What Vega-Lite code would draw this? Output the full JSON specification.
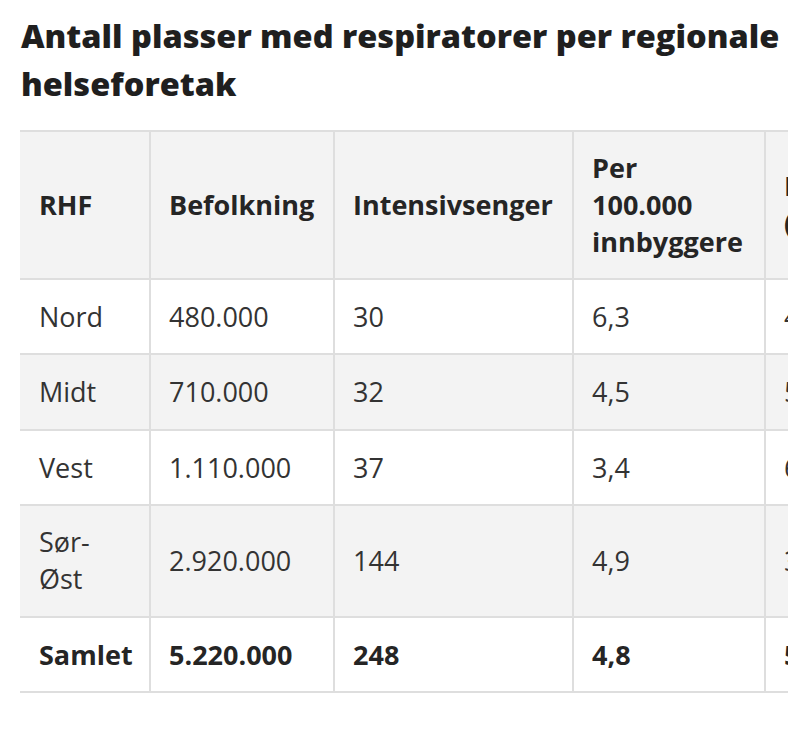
{
  "$schema": "https://vega.github.io/schema/vega-lite/v6.json",
  "width": 768,
  "height": 630,
  "autosize": "none",
  "padding": {"left": 20, "top": 120, "right": 0, "bottom": 0},
  "background": "#ffffff",
  "config": {"view": {"stroke": null}},
  "title": {
    "text": ["Antall plasser med respiratorer per regionale", "helseforetak"],
    "anchor": "start",
    "frame": "group",
    "orient": "top",
    "font": "Open Sans",
    "fontSize": 32.5,
    "fontWeight": 800,
    "color": "#1f1f1f",
    "lineHeight": 48,
    "baseline": "alphabetic",
    "offset": -8,
    "dx": 1
  },
  "datasets": {
    "shaded": [
      {"top": -0.5, "bottom": 0.5},
      {"top": 1.5, "bottom": 2.5},
      {"top": 3.5, "bottom": 4.5}
    ],
    "edges": [
      {"edge": -0.5}, {"edge": 0.5}, {"edge": 1.5}, {"edge": 2.5},
      {"edge": 3.5}, {"edge": 4.5}, {"edge": 5.5}
    ],
    "dividers": [{"line": 1}, {"line": 2}, {"line": 3}, {"line": 4}],
    "cells": [
      {"row": 0, "col": 0, "text": "RHF", "bold": true},
      {"row": 0, "col": 1, "text": "Befolkning", "bold": true},
      {"row": 0, "col": 2, "text": "Intensivsenger", "bold": true},
      {"row": 0, "col": 3, "text": "Per\n100.000\ninnbyggere", "bold": true},
      {"row": 0, "col": 4, "text": "Respiratorer\n(antall)", "bold": true},
      {"row": 1, "col": 0, "text": "Nord", "bold": false},
      {"row": 1, "col": 1, "text": "480.000", "bold": false},
      {"row": 1, "col": 2, "text": "30", "bold": false},
      {"row": 1, "col": 3, "text": "6,3", "bold": false},
      {"row": 1, "col": 4, "text": "4", "bold": false},
      {"row": 2, "col": 0, "text": "Midt", "bold": false},
      {"row": 2, "col": 1, "text": "710.000", "bold": false},
      {"row": 2, "col": 2, "text": "32", "bold": false},
      {"row": 2, "col": 3, "text": "4,5", "bold": false},
      {"row": 2, "col": 4, "text": "5", "bold": false},
      {"row": 3, "col": 0, "text": "Vest", "bold": false},
      {"row": 3, "col": 1, "text": "1.110.000", "bold": false},
      {"row": 3, "col": 2, "text": "37", "bold": false},
      {"row": 3, "col": 3, "text": "3,4", "bold": false},
      {"row": 3, "col": 4, "text": "6", "bold": false},
      {"row": 4, "col": 0, "text": "Sør-\nØst", "bold": false},
      {"row": 4, "col": 1, "text": "2.920.000", "bold": false},
      {"row": 4, "col": 2, "text": "144", "bold": false},
      {"row": 4, "col": 3, "text": "4,9", "bold": false},
      {"row": 4, "col": 4, "text": "3", "bold": false},
      {"row": 5, "col": 0, "text": "Samlet", "bold": true},
      {"row": 5, "col": 1, "text": "5.220.000", "bold": true},
      {"row": 5, "col": 2, "text": "248", "bold": true},
      {"row": 5, "col": 3, "text": "4,8", "bold": true},
      {"row": 5, "col": 4, "text": "5", "bold": true}
    ]
  },
  "layer": [
    {
      "data": {"name": "shaded"},
      "mark": {"type": "rect", "color": "#f3f3f3"},
      "encoding": {
        "x": {"datum": 0, "type": "quantitative", "axis": null,
              "scale": {"domain": [0, 1, 2, 3, 4, 5], "range": [0, 130, 314, 553, 745, 945], "zero": false, "nice": false}},
        "x2": {"datum": 5},
        "y": {"field": "top", "type": "quantitative", "axis": null,
              "scale": {"domain": [-0.5, 0, 0.5, 1, 1.5, 2, 2.5, 3, 3.5, 4, 4.5, 5, 5.5], "range": [11, 85, 159, 196.5, 234, 272, 310, 347.5, 385, 441, 497, 534.5, 572], "zero": false, "nice": false}},
        "y2": {"field": "bottom"}
      }
    },
    {
      "data": {"name": "edges"},
      "mark": {"type": "rule", "color": "#dedede", "strokeWidth": 2},
      "encoding": {
        "x": {"datum": 0, "type": "quantitative", "axis": null,
              "scale": {"domain": [0, 1, 2, 3, 4, 5], "range": [0, 130, 314, 553, 745, 945], "zero": false, "nice": false}},
        "x2": {"datum": 5},
        "y": {"field": "edge", "type": "quantitative", "axis": null,
              "scale": {"domain": [-0.5, 0, 0.5, 1, 1.5, 2, 2.5, 3, 3.5, 4, 4.5, 5, 5.5], "range": [11, 85, 159, 196.5, 234, 272, 310, 347.5, 385, 441, 497, 534.5, 572], "zero": false, "nice": false}}
      }
    },
    {
      "data": {"name": "dividers"},
      "mark": {"type": "rule", "color": "#dedede", "strokeWidth": 2},
      "encoding": {
        "x": {"field": "line", "type": "quantitative", "axis": null,
              "scale": {"domain": [0, 1, 2, 3, 4, 5], "range": [0, 130, 314, 553, 745, 945], "zero": false, "nice": false}},
        "y": {"datum": -0.5, "type": "quantitative", "axis": null,
              "scale": {"domain": [-0.5, 0, 0.5, 1, 1.5, 2, 2.5, 3, 3.5, 4, 4.5, 5, 5.5], "range": [11, 85, 159, 196.5, 234, 272, 310, 347.5, 385, 441, 497, 534.5, 572], "zero": false, "nice": false}},
        "y2": {"datum": 5.5}
      }
    },
    {
      "data": {"name": "cells"},
      "transform": [{"filter": "!datum.bold && length(split(datum.text, '\\n')) == 1"}],
      "mark": {"type": "text", "align": "left", "baseline": "middle", "dx": 19, "dy": 2, "font": "Open Sans", "fontSize": 27, "fontWeight": "normal", "color": "#333333", "lineBreak": "\n", "lineHeight": 37},
      "encoding": {
        "x": {"field": "col", "type": "quantitative", "axis": null,
              "scale": {"domain": [0, 1, 2, 3, 4, 5], "range": [0, 130, 314, 553, 745, 945], "zero": false, "nice": false}},
        "y": {"field": "row", "type": "quantitative", "axis": null,
              "scale": {"domain": [-0.5, 0, 0.5, 1, 1.5, 2, 2.5, 3, 3.5, 4, 4.5, 5, 5.5], "range": [11, 85, 159, 196.5, 234, 272, 310, 347.5, 385, 441, 497, 534.5, 572], "zero": false, "nice": false}},
        "text": {"field": "text", "type": "nominal"}
      }
    },
    {
      "data": {"name": "cells"},
      "transform": [{"filter": "!datum.bold && length(split(datum.text, '\\n')) == 2"}],
      "mark": {"type": "text", "align": "left", "baseline": "middle", "dx": 19, "dy": -17, "font": "Open Sans", "fontSize": 27, "fontWeight": "normal", "color": "#333333", "lineBreak": "\n", "lineHeight": 37},
      "encoding": {
        "x": {"field": "col", "type": "quantitative", "axis": null,
              "scale": {"domain": [0, 1, 2, 3, 4, 5], "range": [0, 130, 314, 553, 745, 945], "zero": false, "nice": false}},
        "y": {"field": "row", "type": "quantitative", "axis": null,
              "scale": {"domain": [-0.5, 0, 0.5, 1, 1.5, 2, 2.5, 3, 3.5, 4, 4.5, 5, 5.5], "range": [11, 85, 159, 196.5, 234, 272, 310, 347.5, 385, 441, 497, 534.5, 572], "zero": false, "nice": false}},
        "text": {"field": "text", "type": "nominal"}
      }
    },
    {
      "data": {"name": "cells"},
      "transform": [{"filter": "datum.bold && length(split(datum.text, '\\n')) == 1"}],
      "mark": {"type": "text", "align": "left", "baseline": "middle", "dx": 19, "dy": 2, "font": "Open Sans", "fontSize": 27, "fontWeight": "bold", "color": "#252525", "lineBreak": "\n", "lineHeight": 37},
      "encoding": {
        "x": {"field": "col", "type": "quantitative", "axis": null,
              "scale": {"domain": [0, 1, 2, 3, 4, 5], "range": [0, 130, 314, 553, 745, 945], "zero": false, "nice": false}},
        "y": {"field": "row", "type": "quantitative", "axis": null,
              "scale": {"domain": [-0.5, 0, 0.5, 1, 1.5, 2, 2.5, 3, 3.5, 4, 4.5, 5, 5.5], "range": [11, 85, 159, 196.5, 234, 272, 310, 347.5, 385, 441, 497, 534.5, 572], "zero": false, "nice": false}},
        "text": {"field": "text", "type": "nominal"}
      }
    },
    {
      "data": {"name": "cells"},
      "transform": [{"filter": "datum.bold && length(split(datum.text, '\\n')) == 2"}],
      "mark": {"type": "text", "align": "left", "baseline": "middle", "dx": 19, "dy": -17, "font": "Open Sans", "fontSize": 27, "fontWeight": "bold", "color": "#252525", "lineBreak": "\n", "lineHeight": 37},
      "encoding": {
        "x": {"field": "col", "type": "quantitative", "axis": null,
              "scale": {"domain": [0, 1, 2, 3, 4, 5], "range": [0, 130, 314, 553, 745, 945], "zero": false, "nice": false}},
        "y": {"field": "row", "type": "quantitative", "axis": null,
              "scale": {"domain": [-0.5, 0, 0.5, 1, 1.5, 2, 2.5, 3, 3.5, 4, 4.5, 5, 5.5], "range": [11, 85, 159, 196.5, 234, 272, 310, 347.5, 385, 441, 497, 534.5, 572], "zero": false, "nice": false}},
        "text": {"field": "text", "type": "nominal"}
      }
    },
    {
      "data": {"name": "cells"},
      "transform": [{"filter": "datum.bold && length(split(datum.text, '\\n')) == 3"}],
      "mark": {"type": "text", "align": "left", "baseline": "middle", "dx": 19, "dy": -35, "font": "Open Sans", "fontSize": 27, "fontWeight": "bold", "color": "#252525", "lineBreak": "\n", "lineHeight": 37},
      "encoding": {
        "x": {"field": "col", "type": "quantitative", "axis": null,
              "scale": {"domain": [0, 1, 2, 3, 4, 5], "range": [0, 130, 314, 553, 745, 945], "zero": false, "nice": false}},
        "y": {"field": "row", "type": "quantitative", "axis": null,
              "scale": {"domain": [-0.5, 0, 0.5, 1, 1.5, 2, 2.5, 3, 3.5, 4, 4.5, 5, 5.5], "range": [11, 85, 159, 196.5, 234, 272, 310, 347.5, 385, 441, 497, 534.5, 572], "zero": false, "nice": false}},
        "text": {"field": "text", "type": "nominal"}
      }
    }
  ]
}
